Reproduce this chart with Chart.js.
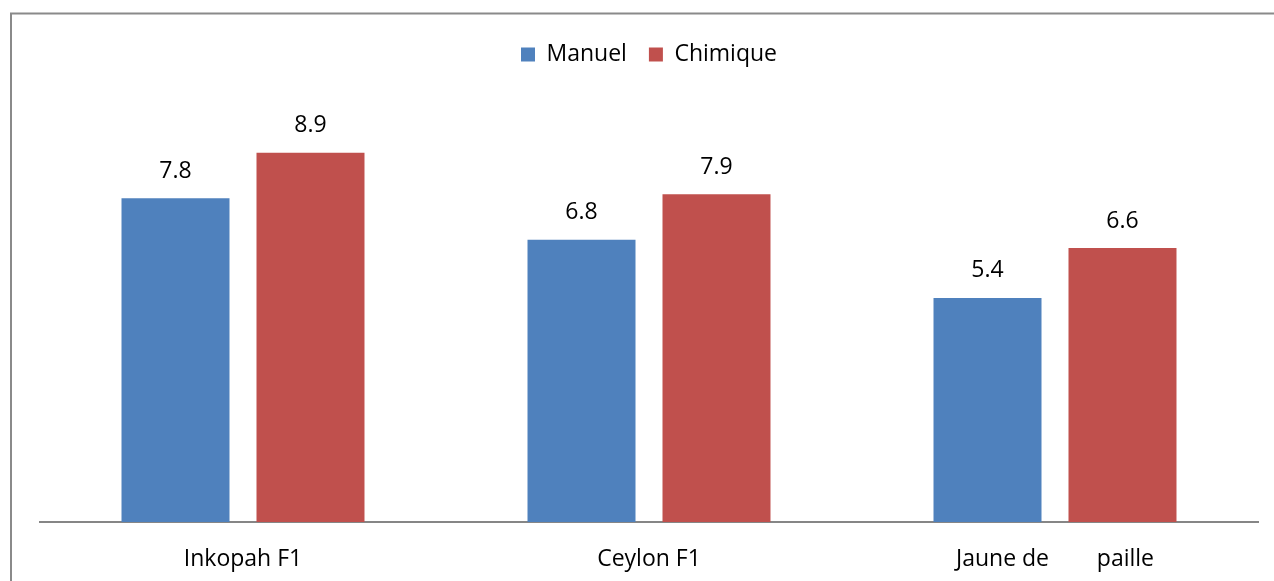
<!DOCTYPE html>
<html>
<head>
<meta charset="utf-8">
<script src="https://cdn.jsdelivr.net/npm/chart.js@4.4.0/dist/chart.umd.min.js"></script>
<style>
  html, body { margin: 0; padding: 0; background: #fff; }
  #wrap { width: 1274px; height: 581px; position: relative; }
</style>
</head>
<body>
<div id="wrap"><canvas id="c" width="1274" height="581"></canvas></div>
<script>
// Varieties and yields for the two treatments
const categories = ['Inkopah F1', 'Ceylon F1', 'Jaune de        paille'];
const seriesNames = ['Manuel', 'Chimique'];
const manuel = [7.8, 6.8, 5.4];
const chimique = [8.9, 7.9, 6.6];
const colors = ['#4F81BD', '#C0504D'];

const FONT = '"Open Sans", "Liberation Sans", sans-serif';

// Outer frame of the chart (left and top edges visible)
const framePlugin = {
  id: 'frame',
  beforeDraw(chart) {
    const ctx = chart.ctx;
    ctx.save();
    ctx.strokeStyle = '#8a8a8a';
    ctx.lineWidth = 2;
    ctx.beginPath();
    ctx.moveTo(11, 600);
    ctx.lineTo(11, 13.5);
    ctx.lineTo(1290, 13.5);
    ctx.stroke();
    ctx.restore();
  }
};

// Extra room between the legend and the plot area
const legendSpacing = {
  id: 'legendSpacing',
  beforeInit(chart) {
    const origFit = chart.legend.fit;
    chart.legend.fit = function () {
      origFit.call(this);
      this.height += 31;
    };
  }
};

// Value labels above each bar
const valueLabels = {
  id: 'valueLabels',
  afterDatasetsDraw(chart) {
    const ctx = chart.ctx;
    ctx.save();
    ctx.fillStyle = '#000';
    ctx.font = '23px ' + FONT;
    ctx.textAlign = 'center';
    ctx.textBaseline = 'middle';
    chart.data.datasets.forEach((ds, i) => {
      chart.getDatasetMeta(i).data.forEach((bar, j) => {
        ctx.fillText(ds.data[j].toFixed(1), bar.x, bar.y - 27);
      });
    });
    ctx.restore();
  }
};

new Chart(document.getElementById('c'), {
  type: 'bar',
  data: {
    labels: categories,
    datasets: [
      { label: seriesNames[0], data: manuel, backgroundColor: colors[0] },
      { label: seriesNames[1], data: chimique, backgroundColor: colors[1] }
    ]
  },
  options: {
    responsive: false,
    animation: false,
    devicePixelRatio: 1,
    layout: { padding: { left: 40, right: 16, top: 21, bottom: 0 } },
    datasets: { bar: { categoryPercentage: 0.665, barPercentage: 0.8 } },
    plugins: {
      legend: {
        display: true,
        position: 'top',
        labels: {
          font: { family: FONT, size: 23 },
          color: '#000',
          boxWidth: 14,
          boxHeight: 14,
          padding: 22
        }
      },
      tooltip: { enabled: false },
      title: { display: false }
    },
    scales: {
      x: {
        grid: { display: false, drawTicks: false },
        border: { display: true, color: '#868686', width: 2 },
        ticks: { font: { family: FONT, size: 23 }, color: '#000', padding: 24, maxRotation: 0 },
        afterFit(scale) { scale.height = 59; }
      },
      y: {
        display: false,
        min: 0,
        max: 10
      }
    }
  },
  plugins: [framePlugin, legendSpacing, valueLabels]
});
</script>
</body>
</html>
